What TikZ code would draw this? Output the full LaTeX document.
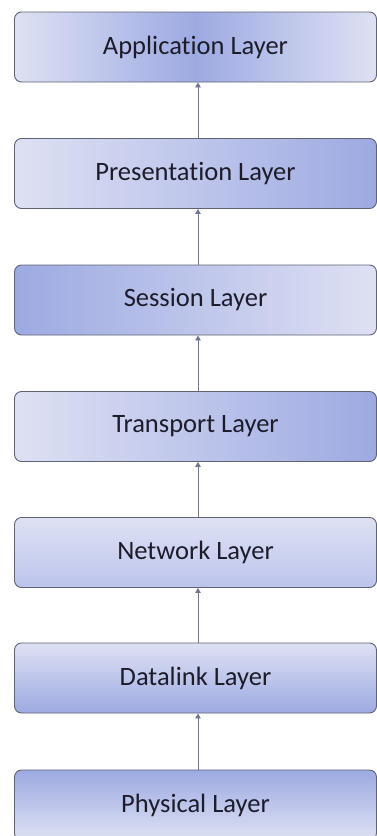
\documentclass[tikz,border=0pt]{standalone}
\usepackage{fontspec}
\setmainfont[Ligatures=NoCommon]{Carlito}
\usetikzlibrary{arrows.meta}
\definecolor{lite}{HTML}{DEE1F3}
\definecolor{dark}{HTML}{9DAAE2}
\definecolor{mid}{HTML}{BCC4EC}
\definecolor{edge}{HTML}{5E6474}
\definecolor{arr}{HTML}{6D7791}
\definecolor{ink}{HTML}{1C1C2A}
\tikzset{
  layer/.style={draw=edge, line width=0.9pt, rounded corners=7pt, minimum width=362pt, minimum height=70pt, inner sep=0pt, font=\fontsize{26.5}{32}\selectfont, text=ink},
  conn/.style={draw=arr, line width=0.9pt, -{Triangle[width=5.5pt,length=5pt]}}
}
\begin{document}
\begin{tikzpicture}[x=1pt,y=1pt]
\useasboundingbox (0,0) rectangle (376,-836);
\fill[white] (0,0) rectangle (376,-836);
\node[layer, left color=lite, right color=lite, middle color=dark] (app) at (195.5,-47) {Application Layer};
\node[layer, left color=lite, right color=dark] (pres) at (195.5,-173.5) {Presentation Layer};
\node[layer, left color=dark, right color=lite] (sess) at (195.5,-300) {Session Layer};
\node[layer, left color=lite, right color=dark] (trans) at (195.5,-426.5) {Transport Layer};
\node[layer, top color=lite, bottom color=mid] (net) at (195.5,-552.5) {Network Layer};
\node[layer, top color=lite, bottom color=dark] (dl) at (195.5,-678) {Datalink Layer};
\node[layer, top color=dark, bottom color=lite] (phys) at (195.5,-805) {Physical Layer};
\draw[conn] ([xshift=2.5pt]phys.north) -- ([xshift=2.5pt]dl.south);
\draw[conn] ([xshift=2.5pt]dl.north) -- ([xshift=2.5pt]net.south);
\draw[conn] ([xshift=2.5pt]net.north) -- ([xshift=2.5pt]trans.south);
\draw[conn] ([xshift=2.5pt]trans.north) -- ([xshift=2.5pt]sess.south);
\draw[conn] ([xshift=2.5pt]sess.north) -- ([xshift=2.5pt]pres.south);
\draw[conn] ([xshift=2.5pt]pres.north) -- ([xshift=2.5pt]app.south);
\end{tikzpicture}
\end{document}
